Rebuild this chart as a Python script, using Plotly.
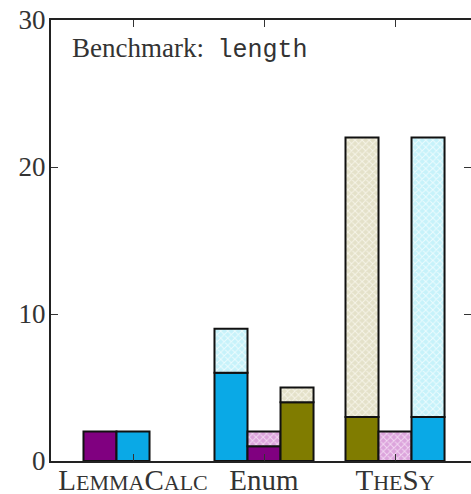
import plotly.graph_objects as go

# ---- data ----
tools = ["LemmaCalc", "Enum", "TheSy"]
tick_text = [
    "L<span style='font-size:22px'>EMMA</span>C<span style='font-size:22px'>ALC</span>",
    "Enum",
    "T<span style='font-size:22px'>HE</span>S<span style='font-size:22px'>Y</span>",
]
y_ticks = [0, 10, 20, 30]

# three bar slots per tool: solid (lower) part and total height (solid + hatched)
slot1_solid = [2, 6, 3]
slot1_total = [None, 9, 22]
slot2_solid = [2, 1, None]
slot2_total = [None, 2, 2]
slot3_solid = [None, 4, 3]
slot3_total = [None, 5, 22]

# ---- styles ----
PURPLE = "#800080"
BLUE = "#0aa9e6"
OLIVE = "#807c00"
HATCH = {
    PURPLE: ("#dca4dc", "#f2d8f2"),
    BLUE: ("#c6f2fa", "#ecfcfe"),
    OLIVE: ("#e4e1c9", "#f6f4e8"),
}
slot1_colors = [PURPLE, BLUE, OLIVE]
slot2_colors = [BLUE, PURPLE, PURPLE]
slot3_colors = [OLIVE, OLIVE, BLUE]

slots = [
    ("s1", slot1_solid, slot1_total, slot1_colors),
    ("s2", slot2_solid, slot2_total, slot2_colors),
    ("s3", slot3_solid, slot3_total, slot3_colors),
]

fig = go.Figure()
line = dict(color="#111111", width=2)
for name, solid, total, cols in slots:
    fig.add_trace(go.Bar(
        x=tools, y=solid, offsetgroup=name,
        marker=dict(color=cols, line=line),
        showlegend=False, hoverinfo="skip",
    ))
    for base_col in dict.fromkeys(cols):
        hy, hb = [], []
        for s, t, c in zip(solid, total, cols):
            if t is None or c != base_col:
                hy.append(None)
                hb.append(0)
            else:
                b = s if s is not None else 0
                hy.append(t - b)
                hb.append(b)
        if all(v is None for v in hy):
            continue
        bg, fg = HATCH[base_col]
        fig.add_trace(go.Bar(
            x=tools, y=hy, base=hb, offsetgroup=name,
            marker=dict(
                color=bg,
                line=line,
                pattern=dict(shape="x", size=5, solidity=0.35,
                             fgcolor=fg, bgcolor=bg, fillmode="replace"),
            ),
            showlegend=False, hoverinfo="skip",
        ))

serif = "Liberation Serif"
tick_style = dict(ticks="inside", ticklen=7, tickwidth=1, tickcolor="#333333")
fig.update_layout(
    width=471, height=494,
    margin=dict(l=51, r=0, t=20, b=33, pad=0),
    paper_bgcolor="white", plot_bgcolor="white",
    barmode="group", bargap=0.244, bargroupgap=0,
    font=dict(family=serif, size=26, color="#222222"),
    xaxis=dict(
        type="category", automargin=False,
        range=[-0.626, 2.58],
        tickvals=tools, ticktext=tick_text,
        showline=True, linecolor="#222222", linewidth=2, mirror="allticks",
        showgrid=False, zeroline=False,
        tickfont=dict(family=serif, size=29, color="#333333"),
        ticklabelstandoff=-8,
        **tick_style,
    ),
    yaxis=dict(
        range=[0, 30], automargin=False,
        tickvals=y_ticks,
        showline=True, linecolor="#222222", linewidth=2, mirror="ticks",
        showgrid=False, zeroline=False,
        tickfont=dict(family=serif, size=27, color="#333333"),
        ticklabelstandoff=-2,
        **tick_style,
    ),
    annotations=[dict(
        xref="paper", yref="paper", x=0.045, y=0.935,
        xanchor="left", yanchor="middle", showarrow=False,
        text="Benchmark:&nbsp; <span style='font-family:Liberation Mono;font-size:25px'>length</span>",
        font=dict(family=serif, size=27, color="#333333"),
    )],
)

fig.write_html("out.html", config={"displayModeBar": False},
               post_script="document.body.style.margin='0';document.body.style.overflow='hidden';")
